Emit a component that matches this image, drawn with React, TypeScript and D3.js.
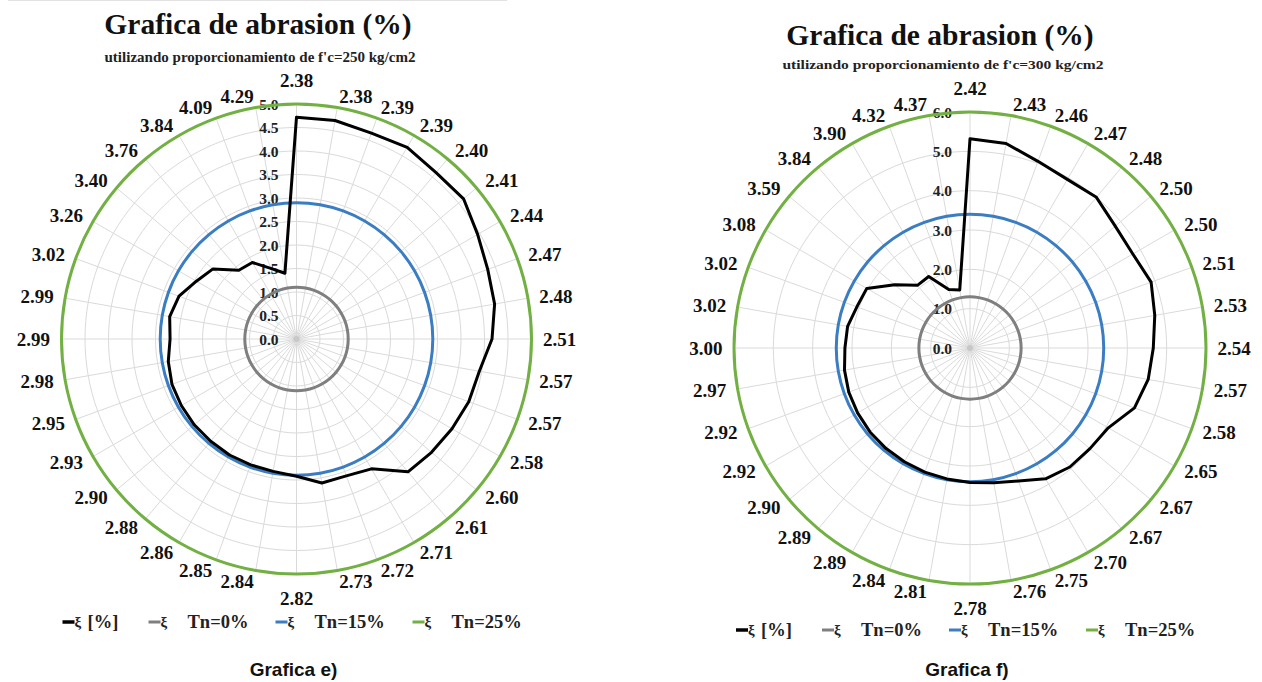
import React from "react";
import * as d3 from "d3";

// ---------- DATA ----------
const leftCategories = ["2.38","2.38","2.39","2.39","2.40","2.41","2.44","2.47","2.48","2.51","2.57","2.57","2.58","2.60","2.61","2.71","2.72","2.73","2.82","2.84","2.85","2.86","2.88","2.90","2.93","2.95","2.98","2.99","2.99","3.02","3.26","3.40","3.76","3.84","4.09","4.29"];
const leftXi = [4.72,4.72,4.66,4.71,4.62,4.64,4.45,4.33,4.28,4.16,3.95,3.90,3.82,3.75,3.69,3.19,3.10,3.11,2.92,2.86,2.85,2.85,2.84,2.84,2.83,2.82,2.77,2.69,2.74,2.66,2.46,2.32,1.91,1.88,1.60,1.42];
const leftTnLevels = [1.1, 2.9, 5.0]; // Tn=0%, Tn=15%, Tn=25%
const leftTicks = ["0.0","0.5","1.0","1.5","2.0","2.5","3.0","3.5","4.0","4.5","5.0"];

const rightCategories = ["2.42","2.43","2.46","2.47","2.48","2.50","2.50","2.51","2.53","2.54","2.57","2.58","2.65","2.67","2.67","2.70","2.75","2.76","2.78","2.81","2.84","2.89","2.89","2.90","2.92","2.92","2.97","3.00","3.02","3.02","3.08","3.59","3.84","3.90","4.32","4.37"];
const rightXi = [5.32,5.28,5.05,4.95,5.00,4.82,4.78,4.90,4.77,4.66,4.60,4.45,4.06,3.98,3.95,3.84,3.60,3.48,3.42,3.38,3.36,3.34,3.33,3.32,3.30,3.28,3.24,3.18,3.16,3.06,3.03,2.50,2.08,2.10,1.58,1.50];
const rightTnLevels = [1.3, 3.4, 6.0];
const rightTicks = ["0.0","1.0","2.0","3.0","4.0","5.0","6.0"];

const legendNames = ["[%]", "Tn=0%", "Tn=15%", "Tn=25%"];
const seriesColors = ["#000000", "#7f7f7f", "#3a7dc2", "#72b043"];

const SERIF = "'Liberation Serif', 'Times New Roman', serif";
const SANS = "'Liberation Sans', Arial, sans-serif";

type Cfg = {
  cx: number; cy: number; R: number;
  cats: string[]; xi: number[]; levels: number[]; ticks: string[];
  title: string; titleX: number; titleY: number;
  subtitle: string; subX: number; subY: number; subLen: number; subSize: number;
  caption: string; capY: number; legendY: number;
};

function Radar({ cfg }: { cfg: Cfg }) {
  const { cx, cy, R, cats, xi, levels, ticks } = cfg;
  const n = cats.length;
  const tickVals = ticks.map(Number);
  const max = tickVals[tickVals.length - 1];
  const r = d3.scaleLinear().domain([0, max]).range([0, R]);
  const ang = (i: number) => (2 * Math.PI * i) / n;
  const line = d3
    .lineRadial<number>()
    .angle((_, i) => ang(i))
    .radius((d) => r(d))
    .curve(d3.curveLinearClosed);
  const ring = d3
    .lineRadial<number>()
    .angle((_, i) => ang(i))
    .radius((d) => r(d))
    .curve(d3.curveCardinalClosed.tension(0));

  const gridCol = "#dadada";
  const legendOff = [-234, -148, -21, 116];

  return (
    <g>
      <text x={cfg.titleX} y={cfg.titleY} textAnchor="middle" fontFamily={SERIF} fontWeight="bold" fontSize={29.5} fill="#111">{cfg.title}</text>
      <text x={cfg.subX} y={cfg.subY} textAnchor="middle" fontFamily={SERIF} fontWeight="bold" fontSize={cfg.subSize} fill="#222" textLength={cfg.subLen} lengthAdjust="spacingAndGlyphs">{cfg.subtitle}</text>
      <g transform={`translate(${cx},${cy})`}>
        {tickVals.filter((t) => t > 0).map((t, k) => (
          <path key={"g" + k} d={ring(new Array(n).fill(t)) || ""} fill="none" stroke={gridCol} strokeWidth={1} />
        ))}
        {cats.map((_, i) => (
          <line key={"s" + i} x1={0} y1={0} x2={R * Math.sin(ang(i))} y2={-R * Math.cos(ang(i))} stroke={gridCol} strokeWidth={1} />
        ))}
        {ticks.map((t, k) => (
          <text key={"t" + k} x={-18} y={-r(tickVals[k])} textAnchor="end" dominantBaseline="central" fontFamily={SERIF} fontWeight="bold" fontSize={15.5} fill="#222">{t}</text>
        ))}
        {cats.map((c, i) => {
          const a = ang(i);
          const s = Math.sin(a), co = Math.cos(a);
          if (Math.abs(s) < 0.01) {
            const d = R + 24;
            return (
              <text key={"c" + i} x={0} y={-co * d} textAnchor="middle" dominantBaseline="central" fontFamily={SERIF} fontWeight="bold" fontSize={19} fill="#111">{c}</text>
            );
          }
          const d = R + 11.5;
          return (
            <text key={"c" + i} x={s * d} y={-co * d} textAnchor={s > 0 ? "start" : "end"} dominantBaseline="central" fontFamily={SERIF} fontWeight="bold" fontSize={19} fill="#111">{c}</text>
          );
        })}
        {levels.map((lv, k) => (
          <path key={"l" + k} d={ring(new Array(n).fill(lv)) || ""} fill="none" stroke={seriesColors[k + 1]} strokeWidth={3} strokeLinejoin="round" />
        ))}
        <path d={line(xi) || ""} fill="none" stroke={seriesColors[0]} strokeWidth={3} strokeLinejoin="round" />
        <circle r={3} fill="#c8c8c8" />
      </g>
      {legendNames.map((nm, k) => {
        const x0 = cx + legendOff[k];
        const y = cfg.legendY;
        return (
          <g key={"lg" + k}>
            <line x1={x0} x2={x0 + 12} y1={y} y2={y} stroke={seriesColors[k]} strokeWidth={k === 0 ? 3.5 : 3} />
            <text x={x0 + 12} y={y} dominantBaseline="central" fontFamily={SERIF} fontWeight="bold" fontSize={15} fill="#222">ξ</text>
            <text x={x0 + (k === 0 ? 25 : 39)} y={y} dominantBaseline="central" fontFamily={SERIF} fontWeight="bold" fontSize={18.5} fill="#222">{nm}</text>
          </g>
        );
      })}
      <text x={cx - 3} y={cfg.capY} textAnchor="middle" fontFamily={SANS} fontWeight="bold" fontSize={19} fill="#111">{cfg.caption}</text>
    </g>
  );
}

const leftCfg: Cfg = {
  cx: 296.5, cy: 339, R: 235,
  cats: leftCategories, xi: leftXi, levels: leftTnLevels, ticks: leftTicks,
  title: "Grafica de abrasion (%)", titleX: 258, titleY: 34,
  subtitle: "utilizando proporcionamiento de f'c=250 kg/cm2", subX: 260, subY: 62, subLen: 311, subSize: 15,
  caption: "Grafica e)", capY: 676, legendY: 622,
};

const rightCfg: Cfg = {
  cx: 970, cy: 348, R: 236,
  cats: rightCategories, xi: rightXi, levels: rightTnLevels, ticks: rightTicks,
  title: "Grafica de abrasion (%)", titleX: 940, titleY: 45,
  subtitle: "utilizando proporcionamiento de f'c=300 kg/cm2", subX: 943, subY: 69, subLen: 321, subSize: 13,
  caption: "Grafica f)", capY: 676, legendY: 630,
};

export default function App() {
  return (
    <svg width={1262} height={682} style={{ position: "absolute", left: 0, top: 0, background: "#fff" }}>
      <rect width={1262} height={682} fill="#fff" />
      <line x1={8} x2={507} y1={0.5} y2={0.5} stroke="#e2e2e2" strokeWidth={1} />
      <Radar cfg={leftCfg} />
      <Radar cfg={rightCfg} />
    </svg>
  );
}
